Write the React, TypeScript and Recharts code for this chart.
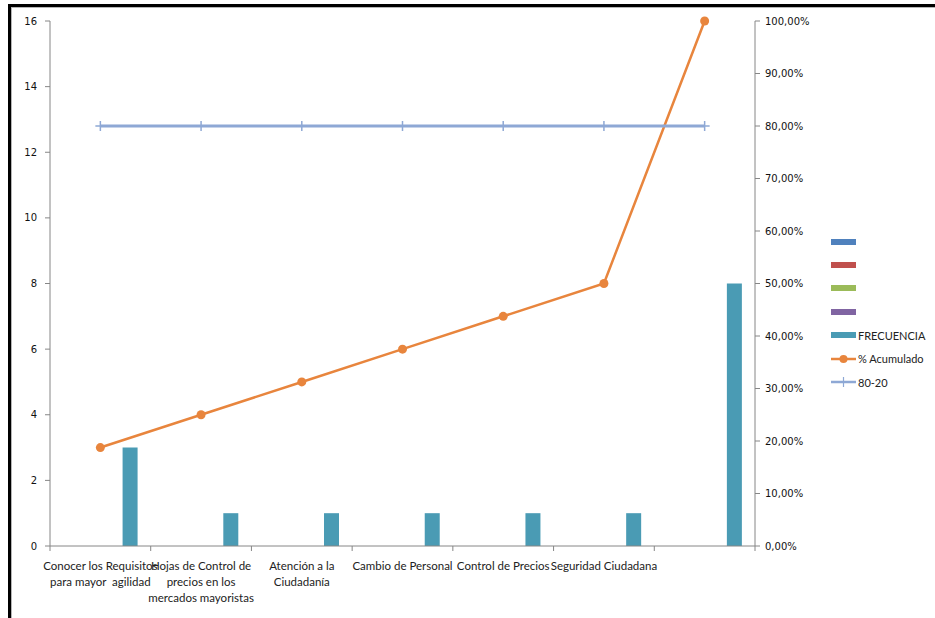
import React from 'react';
import { ComposedChart, Bar, Line, XAxis, YAxis, Legend } from 'recharts';

// categorías (saltos de línea tal como aparecen en el eje)
const categories = [
  'Conocer los Requisitos\npara mayor  agilidad',
  'Hojas de Control de\nprecios en los\nmercados mayoristas',
  'Atención a la\nCiudadanía',
  'Cambio de Personal',
  'Control de Precios',
  'Seguridad Ciudadana',
  '',
];
const frecuencia = [3, 1, 1, 1, 1, 1, 8];
const acumulado = [18.75, 25, 31.25, 37.5, 43.75, 50, 100];
const linea8020 = [80, 80, 80, 80, 80, 80, 80];

const leftTicks = [0, 2, 4, 6, 8, 10, 12, 14, 16];
const rightTicks = [0, 10, 20, 30, 40, 50, 60, 70, 80, 90, 100];

const COLORS = {
  s1: '#4F81BD',
  s2: '#C0504D',
  s3: '#9BBB59',
  s4: '#8064A2',
  frec: '#4A9BB4',
  acum: '#E8853D',
  p8020: '#8EA8D5',
  axis: '#868686',
};

const FONT = 'Lato, "Noto Sans", sans-serif';

const data = categories.map((name, i) => ({
  name,
  s1: null,
  s2: null,
  s3: null,
  s4: null,
  frec: frecuencia[i],
  acum: acumulado[i],
  p8020: linea8020[i],
}));

const CategoryTick = (props: any) => {
  const { x, y, payload, index } = props;
  const half = payload?.offset ?? 705 / 7 / 2;
  const lines = String(payload.value).split('\n');
  return (
    <g>
      {index === 0 && (
        <line x1={x - half} x2={x - half} y1={y} y2={y + 5} stroke={COLORS.axis} />
      )}
      <line x1={x + half} x2={x + half} y1={y} y2={y + 5} stroke={COLORS.axis} />
      <text
        x={x}
        y={y + 24}
        textAnchor="middle"
        fill="#222"
        fontSize={11.5}
        fontFamily={FONT}
        style={{ whiteSpace: 'pre' }}
      >
        {lines.map((l, i) => (
          <tspan key={i} x={x} dy={i === 0 ? 0 : 16}>
            {l}
          </tspan>
        ))}
      </text>
    </g>
  );
};

const PlusDot = (props: any) => {
  const { cx, cy } = props;
  if (cx == null || cy == null) return null;
  return (
    <g>
      <line x1={cx} x2={cx} y1={cy - 5} y2={cy + 5} stroke={COLORS.p8020} strokeWidth={1.5} />
      <line x1={cx - 5} x2={cx + 5} y1={cy} y2={cy} stroke={COLORS.p8020} strokeWidth={1.5} />
    </g>
  );
};

const legendItems = [
  { label: '', color: COLORS.s1, kind: 'rect' },
  { label: '', color: COLORS.s2, kind: 'rect' },
  { label: '', color: COLORS.s3, kind: 'rect' },
  { label: '', color: COLORS.s4, kind: 'rect' },
  { label: 'FRECUENCIA', color: COLORS.frec, kind: 'rect' },
  { label: '% Acumulado', color: COLORS.acum, kind: 'circle' },
  { label: '80-20', color: COLORS.p8020, kind: 'plus' },
];

const LegendContent = () => (
  <div style={{ fontFamily: FONT, fontSize: 11, color: '#222' }}>
    {legendItems.map((it, i) => (
      <div key={i} style={{ height: 23.4, display: 'flex', alignItems: 'center' }}>
        <svg width={27} height={12} style={{ display: 'block' }}>
          {it.kind === 'rect' && <rect x={0} y={3} width={25} height={6} fill={it.color} />}
          {it.kind === 'circle' && (
            <g>
              <line x1={0} x2={25} y1={6} y2={6} stroke={it.color} strokeWidth={2.5} />
              <circle cx={12.5} cy={6} r={4} fill={it.color} />
            </g>
          )}
          {it.kind === 'plus' && (
            <g>
              <line x1={0} x2={25} y1={6} y2={6} stroke={it.color} strokeWidth={2.5} />
              <line x1={12.5} x2={12.5} y1={1} y2={11} stroke={it.color} strokeWidth={1.2} />
            </g>
          )}
        </svg>
        <span>{it.label}</span>
      </div>
    ))}
  </div>
);

export default function App() {
  return (
    <div style={{ position: 'absolute', left: 0, top: 0, width: 935, height: 618, background: '#fff' }}>
      <div
        style={{
          position: 'absolute',
          left: 8,
          top: 4,
          right: 0,
          bottom: 0,
          borderTop: '3px solid #000',
          borderLeft: '3px solid #000',
        }}
      />
      <div
        style={{
          position: 'absolute',
          left: 11,
          top: 7,
          right: 0,
          bottom: 0,
          borderTop: '1px solid #b5b5b5',
          borderLeft: '1px solid #b5b5b5',
        }}
      />
      <div style={{ position: 'absolute', left: 0, top: 0 }}>
        <ComposedChart
          width={935}
          height={618}
          data={data}
          margin={{ top: 21, right: 110, bottom: 32, left: 10 }}
          barCategoryGap="12.5%"
          barGap={0}
        >
          <XAxis
            dataKey="name"
            height={40}
            interval={0}
            tickLine={false}
            tickSize={0}
            tickMargin={0}
            stroke={COLORS.axis}
            tick={<CategoryTick />}
          />
          <YAxis
            yAxisId="left"
            width={40}
            domain={[0, 16]}
            ticks={leftTicks}
            interval={0}
            tickSize={5}
            tickMargin={8}
            stroke={COLORS.axis}
            tick={{ fill: '#111', fontSize: 10, fontFamily: 'DejaVu Sans' }}
          />
          <YAxis
            yAxisId="right"
            orientation="right"
            width={70}
            domain={[0, 100]}
            ticks={rightTicks}
            interval={0}
            tickSize={5}
            tickMargin={5}
            stroke={COLORS.axis}
            tickFormatter={(v: number) => `${v},00%`}
            tick={{ fill: '#111', fontSize: 10, fontFamily: 'DejaVu Sans' }}
          />
          <Legend
            layout="vertical"
            align="center"
            verticalAlign="middle"
            content={<LegendContent />}
            wrapperStyle={{ left: 831, top: 230, width: 100 }}
          />
          <Bar yAxisId="left" dataKey="s1" name=" " fill={COLORS.s1} isAnimationActive={false} />
          <Bar yAxisId="left" dataKey="s2" name="  " fill={COLORS.s2} isAnimationActive={false} />
          <Bar yAxisId="left" dataKey="s3" name="   " fill={COLORS.s3} isAnimationActive={false} />
          <Bar yAxisId="left" dataKey="s4" name="    " fill={COLORS.s4} isAnimationActive={false} />
          <Bar yAxisId="left" dataKey="frec" name="FRECUENCIA" fill={COLORS.frec} isAnimationActive={false} />
          <Line
            yAxisId="right"
            dataKey="acum"
            name="% Acumulado"
            stroke={COLORS.acum}
            strokeWidth={2.5}
            dot={{ r: 4.5, fill: COLORS.acum, stroke: COLORS.acum, strokeWidth: 0 }}
            activeDot={false}
            isAnimationActive={false}
          />
          <Line
            yAxisId="right"
            dataKey="p8020"
            name="80-20"
            stroke={COLORS.p8020}
            strokeWidth={3}
            dot={<PlusDot />}
            activeDot={false}
            isAnimationActive={false}
          />
        </ComposedChart>
      </div>
    </div>
  );
}
